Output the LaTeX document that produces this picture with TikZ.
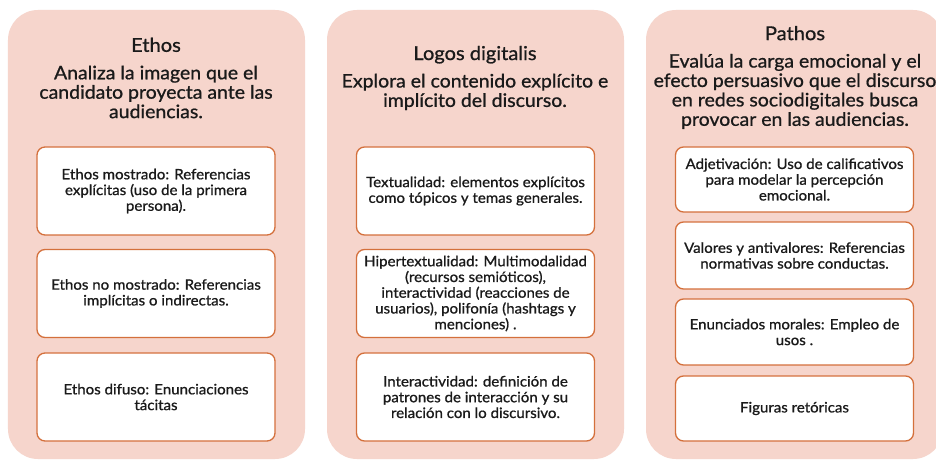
\documentclass[tikz,border=0pt]{standalone}
\usepackage{fontspec}
\setmainfont{Lato}[FakeBold=0.9, FakeStretch=1.05]
\definecolor{panelpink}{HTML}{F6D5CC}
\definecolor{boxorange}{HTML}{D4703C}
\definecolor{txt}{HTML}{1A1A1A}
\tikzset{
  panel/.style={fill=panelpink, draw=none, rounded corners=30bp, minimum width=297bp, minimum height=449bp, inner sep=0pt},
  itembox/.style={draw=boxorange, line width=1.3bp, fill=white, rounded corners=8bp, align=center,
    font=\fontsize{14.4}{15.8}\selectfont, text=txt, inner sep=0pt, minimum width=238bp},
  head/.style={align=center, text=txt, inner sep=0pt, font=\fontsize{18.6}{19.5}\selectfont},
}
\newcommand{\ttl}[1]{{\fontsize{19.2}{19}\selectfont #1}}
\begin{document}
\begin{tikzpicture}[x=1bp,y=-1bp]
\useasboundingbox (0,0) rectangle (936,460);
\clip (0,0) rectangle (936,460);
\fill[white] (0,0) rectangle (936,460);
% panels
\node[panel] (p1) at (156.5,234.5) {};
\node[panel] (p2) at (475.5,234.5) {};
\node[panel] (p3) at (794.5,234.5) {};
% headers
\node[head] (h1) at (156,78) {\ttl{Ethos}\\[8bp]Analiza la imagen que el\\candidato proyecta ante las\\audiencias.};
\node[head] (h2) at (475,78) {\ttl{Logos digitalis}\\[8bp]Explora el contenido explícito e\\implícito del discurso.};
\node[head] (h3) at (795,77.5) {\ttl{Pathos}\\[8bp]Evalúa la carga emocional y el\\efecto persuasivo que el discurso\\en redes sociodigitales busca\\provocar en las audiencias.};
% panel 1 boxes
\node[itembox, minimum height=88bp] (a1) at (156,191) {Ethos mostrado: Referencias\\explícitas (uso de la primera\\persona).};
\node[itembox, minimum height=88bp] (a2) at (156,293.5) {Ethos no mostrado: Referencias\\implícitas o indirectas.};
\node[itembox, minimum height=88bp] (a3) at (156,397) {Ethos difuso: Enunciaciones\\tácitas};
% panel 2 boxes
\node[itembox, minimum height=88bp] (b1) at (475.5,191) {Textualidad: elementos explícitos\\como tópicos y temas generales.};
\node[itembox, minimum height=88bp] (b2) at (475.5,293.5) {Hipertextualidad: Multimodalidad\\(recursos semióticos),\\interactividad (reacciones de\\usuarios), polifonía (hashtags y\\menciones) .};
\node[itembox, minimum height=88bp] (b3) at (475.5,397) {Interactividad: definición de\\patrones de interacción y su\\relación con lo discursivo.};
% panel 3 boxes
\node[itembox, minimum height=65bp] (c1) at (794.5,179.5) {Adjetivación: Uso de calificativos\\para modelar la percepción\\emocional.};
\node[itembox, minimum height=67bp] (c2) at (794.5,255.5) {Valores y antivalores: Referencias\\normativas sobre conductas.};
\node[itembox, minimum height=66bp] (c3) at (794.5,332) {Enunciados morales: Empleo de\\usos .};
\node[itembox, minimum height=65bp] (c4) at (794.5,408.5) {Figuras retóricas};
\end{tikzpicture}
\end{document}
